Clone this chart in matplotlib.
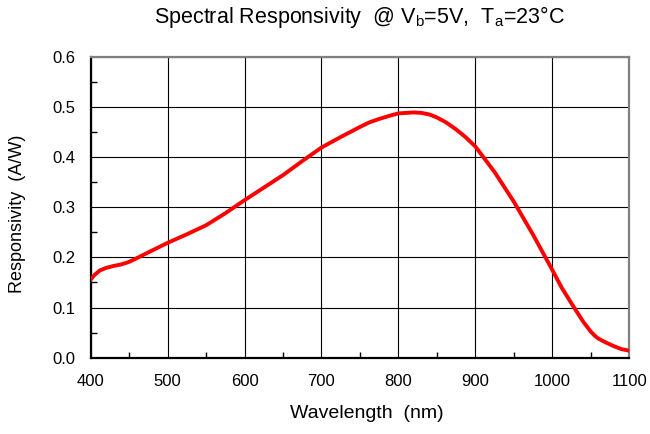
import numpy as np
import matplotlib
matplotlib.use('Agg')
import matplotlib.pyplot as plt
from matplotlib.ticker import MultipleLocator

plt.rcParams['font.family'] = ['Liberation Sans', 'DejaVu Sans']
plt.rcParams['mathtext.default'] = 'regular'

# values
wavelength = [400, 405, 412, 420, 430, 440, 450, 462, 475, 500, 525, 550, 575,
              600, 625, 650, 675, 700, 725, 750, 762, 775, 790, 800, 810, 820,
              830, 840, 850, 862, 875, 887, 900, 925, 950, 975, 1000, 1012,
              1025, 1040, 1050, 1055, 1060, 1070, 1080, 1090, 1100]
responsivity = [0.156, 0.165, 0.174, 0.179, 0.183, 0.186, 0.191, 0.200, 0.210,
                0.229, 0.246, 0.264, 0.288, 0.314, 0.339, 0.364, 0.392, 0.419,
                0.440, 0.460, 0.469, 0.476, 0.483, 0.487, 0.488, 0.489, 0.488,
                0.485, 0.479, 0.469, 0.455, 0.440, 0.421, 0.370, 0.311, 0.245,
                0.175, 0.140, 0.108, 0.072, 0.052, 0.044, 0.038, 0.030, 0.023,
                0.017, 0.014]

x_ticks = [400, 500, 600, 700, 800, 900, 1000, 1100]
y_ticks = [0.0, 0.1, 0.2, 0.3, 0.4, 0.5, 0.6]

fig = plt.figure(figsize=(6.5, 4.34), dpi=100)
ax = fig.add_axes([0.1395, 0.1758, 0.8286, 0.6935])

ax.plot(wavelength, responsivity, color='#ff0000', lw=2.8, solid_joinstyle='round', zorder=3)

ax.set_xlim(400, 1100)
ax.set_ylim(0, 0.6)
ax.set_xticks(x_ticks)
ax.set_yticks(y_ticks)
ax.set_yticklabels([f'{v:.1f}' for v in y_ticks])
ax.xaxis.set_minor_locator(MultipleLocator(50))
ax.yaxis.set_minor_locator(MultipleLocator(0.05))
ax.tick_params(which='both', direction='in', labelsize=12, color='black')
ax.tick_params(which='major', length=0)
ax.tick_params(axis='x', which='major', pad=12)
ax.tick_params(axis='y', which='major', pad=11)
ax.tick_params(which='minor', length=4, width=1)

ax.grid(True, which='major', color='black', lw=0.8)
for s in ['left', 'bottom']:
    ax.spines[s].set_linewidth(1.6)
    ax.spines[s].set_color('black')
for s in ['top', 'right']:
    ax.spines[s].set_linewidth(1.6)
    ax.spines[s].set_color('#808080')

fig.text(367 / 650, 1 - 414 / 434, 'Wavelength  (nm)', ha='center', va='center', fontsize=14)
fig.text(18 / 650, 1 - 214 / 434, 'Responsivity  (A/W)', ha='center', va='center',
         rotation=90, fontsize=13)

fig.text(359 / 650, 1 - 23 / 434, 'Spectral Responsivity  @ V$_b$=5V,  T$_a$=23°C',
         ha='center', va='baseline', fontsize=15.5)

fig.savefig('out.png', dpi=100)
